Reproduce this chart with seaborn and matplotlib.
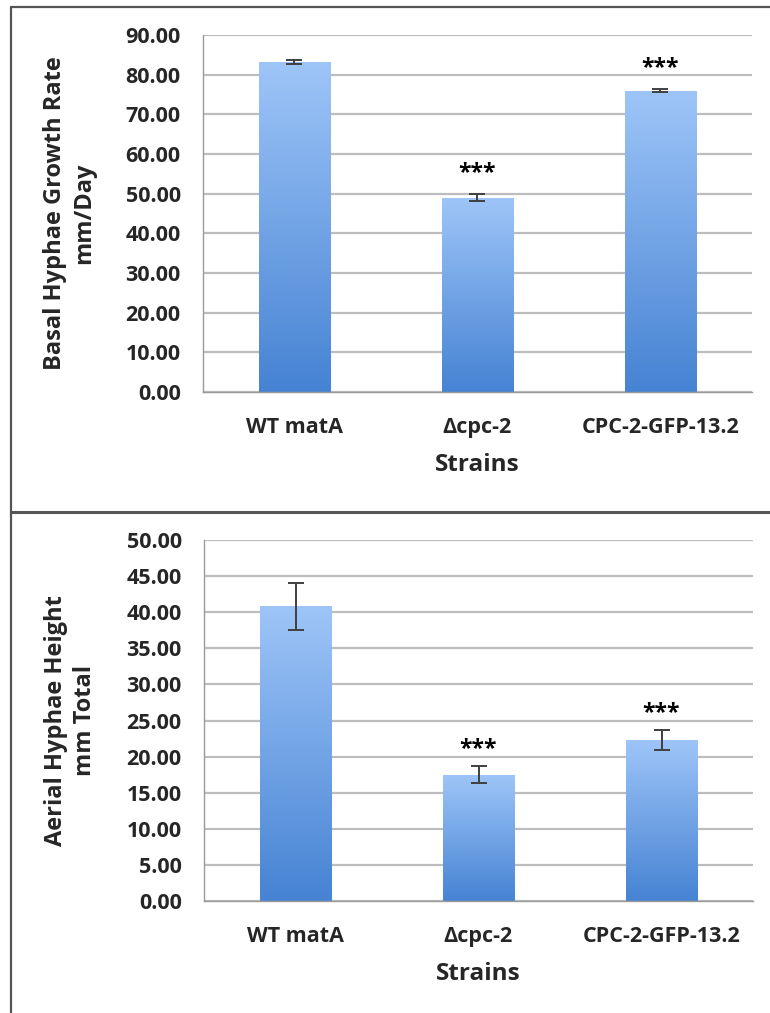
import numpy as np
import pandas as pd
import matplotlib
matplotlib.use("Agg")
import matplotlib.pyplot as plt
from matplotlib.lines import Line2D
from matplotlib.colors import LinearSegmentedColormap
import seaborn as sns

strains = ["WT matA", "\u0394cpc-2", "CPC-2-GFP-13.2"]
basal_rate = [83.2, 49.0, 76.0]
basal_err = [0.4, 0.8, 0.35]
basal_sig = ["", "***", "***"]
aerial_height = [40.8, 17.5, 22.3]
aerial_err = [3.3, 1.2, 1.35]
aerial_sig = ["", "***", "***"]
basal_ticks = [0, 10, 20, 30, 40, 50, 60, 70, 80, 90]
aerial_ticks = [0, 5, 10, 15, 20, 25, 30, 35, 40, 45, 50]

sns.set_theme(style="white")
plt.rcParams["font.family"] = ["Open Sans", "DejaVu Sans"]
plt.rcParams["font.weight"] = "bold"

W, H = 770, 1013
fig = plt.figure(figsize=(W / 100, H / 100), dpi=100)

cmap = LinearSegmentedColormap.from_list("bargrad", ["#4683D3", "#9EC5F8"])
grid_c = "#BDBDBD"
spine_c = "#9A9A9A"


def panel(rect, values, errs, sig, ticks, ylabel, star_off):
    ax = fig.add_axes(rect)
    df = pd.DataFrame({"Strain": strains, "Value": values})
    sns.barplot(data=df, x="Strain", y="Value", ax=ax, color="#6D9EE8",
                width=0.39, saturation=1, zorder=2)
    ax.set_ylim(ticks[0], ticks[-1])
    ax.set_xlim(-0.5, len(strains) - 0.5)
    ax.set_yticks(ticks)
    ax.set_yticklabels([f"{t:.2f}" for t in ticks], fontsize=15.5, fontweight="bold")
    ax.set_xticks([-0.5, 0.5, 1.5, 2.5], minor=False)
    ax.set_xticklabels([])
    ax.set_xticks(range(len(strains)), minor=True)
    ax.set_xticklabels(strains, minor=True, fontsize=15.5, fontweight="bold")
    ax.tick_params(axis="x", which="minor", length=0, pad=18)
    ax.tick_params(axis="x", which="major", length=6, width=1, color=spine_c, direction="out")
    ax.tick_params(axis="y", length=6, width=1, color=spine_c, direction="out", pad=10)
    ax.yaxis.grid(True, color=grid_c, lw=1.6, zorder=0)
    ax.set_axisbelow(True)
    for s in ["top", "right"]:
        ax.spines[s].set_visible(False)
    for s in ["left", "bottom"]:
        ax.spines[s].set_color(spine_c)
        ax.spines[s].set_linewidth(1.0)
    ax.set_xlabel("Strains", fontsize=17.5, fontweight="bold", labelpad=11)
    ax.set_ylabel(ylabel, fontsize=17, fontweight="bold", labelpad=14, linespacing=1.25)

    # gradient fill per bar
    grad = np.linspace(0, 1, 256).reshape(-1, 1)
    for p in list(ax.patches):
        x0, y0 = p.get_x(), p.get_y()
        w, h = p.get_width(), p.get_height()
        im = ax.imshow(grad, cmap=cmap, origin="lower", aspect="auto",
                       extent=[x0, x0 + w, y0, y0 + h], zorder=2.5)
        im.set_clip_path(p)
        p.set_facecolor("none")
        p.set_edgecolor("none")
    ax.set_xlim(-0.5, len(strains) - 0.5)
    ax.set_ylim(ticks[0], ticks[-1])

    xs = np.arange(len(strains))
    ax.errorbar(xs, values, yerr=errs, fmt="none", ecolor="#3F3F3F",
                elinewidth=1.4, capsize=6, capthick=1.4, zorder=4)
    for x, v, e, s in zip(xs, values, errs, sig):
        if s:
            ax.annotate(s, (x, v + e), xytext=(0, star_off), textcoords="offset pixels",
                        ha="center", va="center", fontsize=16.5, fontweight="bold",
                        color="black", annotation_clip=False)
    return ax


ax1 = panel([203 / W, 1 - 392 / H, 549 / W, 357 / H], basal_rate, basal_err, basal_sig,
            basal_ticks, "Basal Hyphae Growth Rate\nmm/Day", 21)
ax2 = panel([204 / W, 1 - 901 / H, 549 / W, 361 / H], aerial_height, aerial_err, aerial_sig,
            aerial_ticks, "Aerial Hyphae Height\nmm Total", 17)
ax1.yaxis.set_label_coords(-0.195, 0.5)
ax2.yaxis.set_label_coords(-0.195, 0.5)

# panel frame lines
bc = "#555555"
fig.add_artist(Line2D([11 / W, 1], [1 - 7 / H, 1 - 7 / H], color=bc, lw=1.6))
fig.add_artist(Line2D([11 / W, 11 / W], [0, 1 - 7 / H], color=bc, lw=1.6))
fig.add_artist(Line2D([11 / W, 1], [1 - 512 / H, 1 - 512 / H], color=bc, lw=2.2))

fig.savefig("out.png", dpi=100)
